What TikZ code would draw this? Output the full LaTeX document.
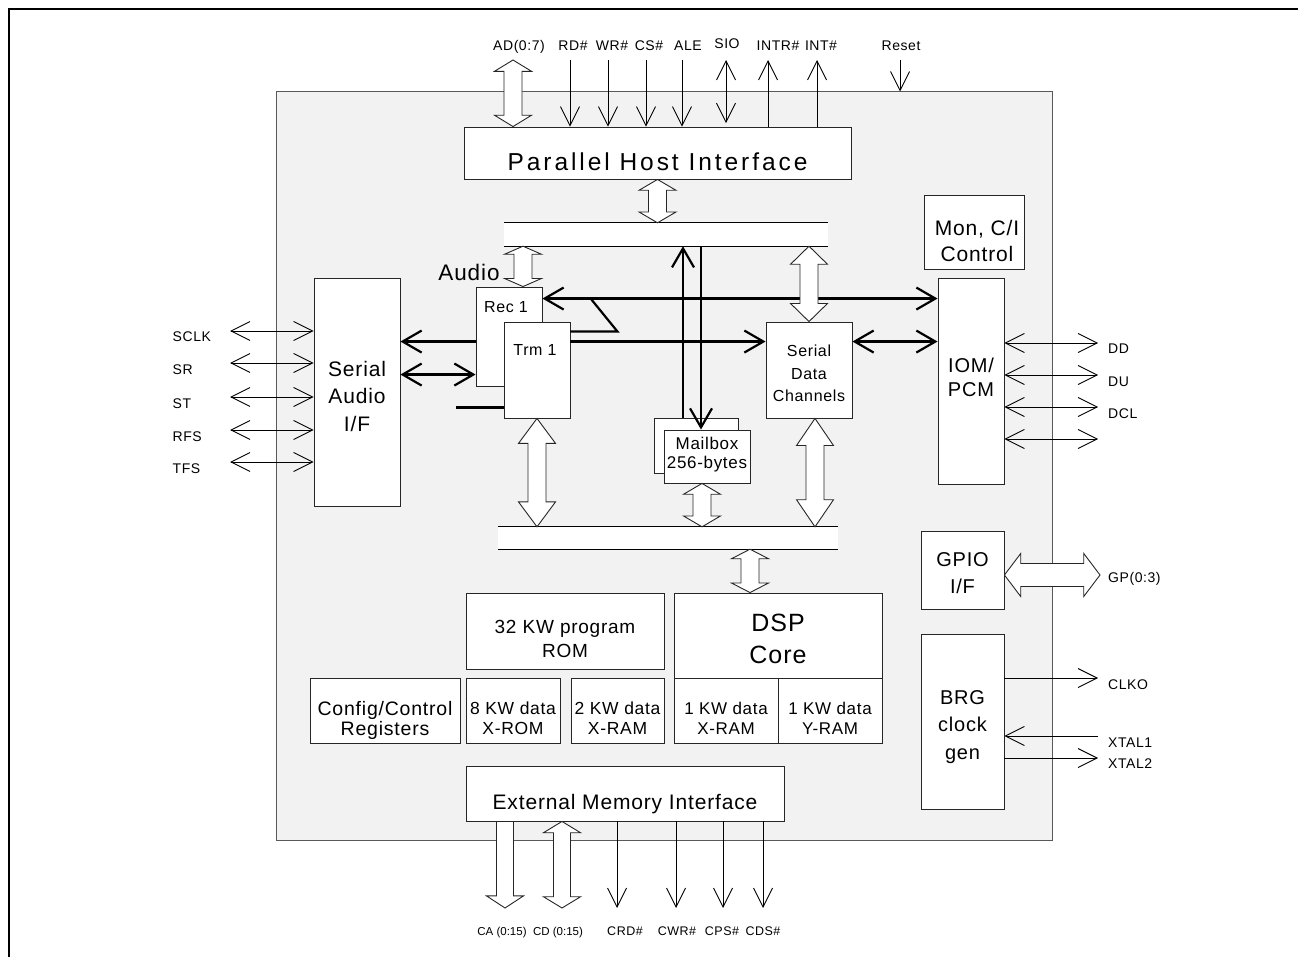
\documentclass[tikz,border=0pt]{standalone}
\usepackage{fontspec}
\setmainfont{Liberation Sans}[LetterSpace=4]
\newfontfamily\widefont{Liberation Sans}[LetterSpace=12]
\newfontfamily\plainfont{Liberation Sans}
\usetikzlibrary{arrows.meta,calc,positioning}
\tikzset{
  chip/.style={draw=black!65,fill=black!5,line width=1pt},
  box/.style={draw=black!85,fill=white,line width=0.9pt,inner sep=0pt},
  tx/.style={inner sep=0pt,align=center,font=\fontsize{20}{27}\selectfont},
  pin/.style={inner sep=0pt,font=\fontsize{14}{16}\selectfont},
  pinsm/.style={inner sep=0pt,font=\fontsize{12.5}{14}\selectfont},
  pinbus/.style={inner sep=0pt,font=\plainfont\fontsize{11.5}{14}\selectfont},
  wire/.style={line width=0.9pt},
  bold/.style={line width=2.2pt,>={Straight Barb[length=19pt,width=22pt]}},
  fathead/.store in=\fatlen, fatwide/.store in=\fatwd, fatshaft/.store in=\fatsh,
  fathead=0.22, fatwide=18.5pt, fatshaft=9pt,
  fat/.style={draw=black!85,fill=white,line width=0.9pt,
    to path={let \p1=(\tikztostart), \p2=(\tikztotarget) in
      -- ($(\p1)!\fatlen!(\p2)!\fatwd!90:(\p2)$)
      -- ($(\p1)!\fatlen!(\p2)!\fatsh!90:(\p2)$)
      -- ($(\p2)!\fatlen!(\p1)!\fatsh!-90:(\p1)$)
      -- ($(\p2)!\fatlen!(\p1)!\fatwd!-90:(\p1)$)
      -- (\p2)
      -- ($(\p2)!\fatlen!(\p1)!\fatwd!90:(\p1)$)
      -- ($(\p2)!\fatlen!(\p1)!\fatsh!90:(\p1)$)
      -- ($(\p1)!\fatlen!(\p2)!\fatsh!-90:(\p2)$)
      -- ($(\p1)!\fatlen!(\p2)!\fatwd!-90:(\p2)$)
      -- cycle}},
  fatone/.style={draw=black!85,fill=white,line width=0.9pt,
    to path={let \p1=(\tikztostart), \p2=(\tikztotarget) in
      -- ($(\p1)!\fatsh!90:(\p2)$)
      -- ($(\p2)!\fatlen!(\p1)!\fatsh!-90:(\p1)$)
      -- ($(\p2)!\fatlen!(\p1)!\fatwd!-90:(\p1)$)
      -- (\p2)
      -- ($(\p2)!\fatlen!(\p1)!\fatwd!90:(\p1)$)
      -- ($(\p2)!\fatlen!(\p1)!\fatsh!90:(\p1)$)
      -- ($(\p1)!\fatsh!-90:(\p2)$)
      -- cycle}}
}
\begin{document}
\begin{tikzpicture}[x=1pt,y=-1pt,>={Straight Barb[length=19pt,width=19pt]}]
  \useasboundingbox (0,0) rectangle (1298,957);
  \draw[line width=2pt] (9,957) -- (9,9) -- (1298,9);
  \node[chip,minimum width=776pt,minimum height=748pt] (chip) at (664,466) {};
  % blocks
  \node[box,minimum width=387pt,minimum height=52pt,
    label={[tx,font=\widefont\fontsize{24.5}{28}\selectfont,yshift=-9pt]center:Parallel Host Interface}] (phi) at (657.5,153) {};
  \node[box,minimum width=86pt,minimum height=228pt,
    label={[tx,font=\fontsize{21}{27.5}\selectfont,yshift=-4pt]center:{Serial\\Audio\\I/F}}] (saif) at (357,392) {};
  \node[box,minimum width=66pt,minimum height=99pt,
    label={[tx,font=\fontsize{16}{20}\selectfont,xshift=-3pt,yshift=29.5pt]center:Rec 1}] (rec) at (509,336.5) {};
  \node[box,minimum width=66pt,minimum height=96pt,
    label={[tx,font=\fontsize{16}{20}\selectfont,xshift=-2pt,yshift=20pt]center:Trm 1}] (trm) at (537,370) {};
  \node[pin,anchor=base,font=\fontsize{22.5}{26}\selectfont] (audio) at (469,281) {Audio};
  \node[fill=white,inner sep=0pt,minimum width=324pt,minimum height=23pt] (ubus) at (666,234.5) {};
  \node[fill=white,inner sep=0pt,minimum width=340pt,minimum height=22pt] (lbus) at (668,538) {};
  \draw[wire] (ubus.north west) -- (ubus.north east) (ubus.south west) -- (ubus.south east);
  \draw[wire] (lbus.north west) -- (lbus.north east) (lbus.south west) -- (lbus.south east);
  \node[box,minimum width=84pt,minimum height=55pt] (mback) at (696,445.5) {};
  \node[box,minimum width=86pt,minimum height=53pt,
    label={[tx,font=\fontsize{17}{18.5}\selectfont,yshift=2pt]center:{Mailbox\\256-bytes}}] (mbox) at (707,456.5) {};
  \node[box,minimum width=86pt,minimum height=96pt,
    label={[tx,font=\fontsize{16}{22.5}\selectfont,yshift=-3.3pt]center:{Serial\\Data\\Channels}}] (sdc) at (809,370) {};
  \node[box,minimum width=100pt,minimum height=74pt,
    label={[tx,font=\fontsize{21}{26}\selectfont,xshift=3pt,yshift=-8.8pt]center:{Mon, C/I\\Control}}] (mon) at (974,232) {};
  \node[box,minimum width=66pt,minimum height=206pt,
    label={[tx,font=\fontsize{20}{24.7}\selectfont,yshift=3.5pt]center:{IOM/\\PCM}}] (iom) at (971,381) {};
  \node[box,minimum width=83pt,minimum height=78pt,
    label={[tx,font=\fontsize{20}{26.7}\selectfont,yshift=-3.2pt]center:{GPIO\\I/F}}] (gpio) at (962.5,570) {};
  \node[box,minimum width=83pt,minimum height=175pt,
    label={[tx,font=\fontsize{20}{27.5}\selectfont,yshift=-5.5pt]center:{BRG\\clock\\gen}}] (brg) at (962.5,721.5) {};
  \node[box,minimum width=318pt,minimum height=55pt,
    label={[tx,font=\fontsize{21}{26}\selectfont,yshift=-11pt]center:External Memory Interface}] (emi) at (625,793.5) {};
  \node[box,minimum width=198pt,minimum height=76pt,
    label={[tx,font=\fontsize{19}{23.5}\selectfont,yshift=-8pt]center:{32 KW program\\ROM}}] (rom) at (565,631) {};
  \node[box,minimum width=208pt,minimum height=85pt,
    label={[tx,font=\fontsize{25}{32}\selectfont,yshift=-3.5pt]center:{DSP\\Core}}] (dsp) at (778,635.5) {};
  \node[box,minimum width=104pt,minimum height=65pt,
    label={[tx,font=\fontsize{17}{20}\selectfont,yshift=-7.8pt]center:{1 KW data\\X-RAM}}] (xram) at (726,710.5) {};
  \node[box,minimum width=104pt,minimum height=65pt,
    label={[tx,font=\fontsize{17}{20}\selectfont,yshift=-7.8pt]center:{1 KW data\\Y-RAM}}] (yram) at (830,710.5) {};
  \node[box,minimum width=150pt,minimum height=65pt,
    label={[tx,font=\fontsize{19.5}{20}\selectfont,yshift=-9.8pt]center:{Config/Control\\Registers}}] (cfg) at (385,710.5) {};
  \node[box,minimum width=94pt,minimum height=65pt,
    label={[tx,font=\fontsize{17.5}{20}\selectfont,yshift=-7.8pt]center:{8 KW data\\X-ROM}}] (xrom) at (513,710.5) {};
  \node[box,minimum width=93pt,minimum height=65pt,
    label={[tx,font=\fontsize{17.5}{20}\selectfont,yshift=-7.8pt]center:{2 KW data\\X-RAM}}] (xram2) at (617.5,710.5) {};
  % top pins
  \coordinate (ad) at (513,60);
  \node[pin,anchor=base] (ad-l) at (519,50.5) {AD(0:7)};
  \draw[fat,fathead=0.17] (ad) to (ad |- phi.north);
  \foreach \x/\lx/\nm/\txt in {570/573/rd/RD\#,608/612/wr/WR\#,646/649/cs/CS\#,682/688/ale/ALE}{
    \coordinate (\nm) at (\x,60);
    \node[pin,anchor=base] (\nm-l) at (\lx,50.5) {\txt};
    \draw[wire,->] (\nm) -- (\nm |- phi.north);
  }
  \coordinate (sio) at (726,60);
  \node[pin,anchor=base] (sio-l) at (727,48.3) {SIO};
  \draw[wire,<->,shorten >=3.5pt] (sio) -- (sio |- phi.north);
  \foreach \x/\lx/\nm/\txt in {768/778/intr/INTR\#,817/821/int/INT\#}{
    \coordinate (\nm) at (\x,60);
    \node[pin,anchor=base] (\nm-l) at (\lx,50.5) {\txt};
    \draw[wire,<-] (\nm) -- (\nm |- phi.north);
  }
  \coordinate (reset) at (900,60);
  \node[pin,anchor=base] (reset-l) at (901,50.5) {Reset};
  \draw[wire,->] (reset) -- (reset |- chip.north);
  % serial audio pins
  \foreach \y/\nm/\txt in {331/sclk/SCLK,363/sr/SR,397/st/ST,430/rfs/RFS,462/tfs/TFS}{
    \coordinate (\nm) at (230,\y);
    \node[pin,anchor=base west] (\nm-l) at (172.5,\y+11) {\txt};
    \draw[wire,<->] (\nm) -- (\nm -| saif.west);
  }
  % IOM pins
  \foreach \y/\nm/\txt in {343/dd/DD,375/du/DU,407/dcl/DCL}{
    \coordinate (\nm) at (1098,\y);
    \node[pin,anchor=base west] (\nm-l) at (1108,\y+11) {\txt};
    \draw[wire,<->] (\nm -| iom.east) -- (\nm);
  }
  \coordinate (dx) at (1098,439);
  \draw[wire,<->] (dx -| iom.east) -- (dx);
  % gpio and clock
  \coordinate (gp) at (1100,575);
  \node[pin,anchor=base west] (gp-l) at (1108,582) {GP(0:3)};
  \draw[fat,fathead=0.17,fatwide=21.5pt,fatshaft=11.5pt] (gp -| gpio.east) to (gp);
  \coordinate (clko) at (1098,678);
  \coordinate (xtal1) at (1098,736);
  \coordinate (xtal2) at (1098,758);
  \node[pin,anchor=base west] (clko-l) at (1108,689) {CLKO};
  \node[pin,anchor=base west] (xtal1-l) at (1108,747.5) {XTAL1};
  \node[pin,anchor=base west] (xtal2-l) at (1108,768) {XTAL2};
  \draw[wire,->] (clko -| brg.east) -- (clko);
  \draw[wire,->] (xtal1) -- (xtal1 -| brg.east);
  \draw[wire,->] (xtal2 -| brg.east) -- (xtal2);
  % memory pins
  \coordinate (ca) at (505,908);
  \coordinate (cd) at (562,908);
  \node[pinbus,anchor=base] (ca-l) at (502,935) {CA (0:15)};
  \node[pinbus,anchor=base] (cd-l) at (558,935) {CD (0:15)};
  \draw[fatone,fathead=0.14,fatshaft=8.5pt] (ca |- emi.south) to (ca);
  \draw[fat,fathead=0.13,fatshaft=8.5pt] (cd |- emi.south) to (cd);
  \foreach \x/\lx/\nm/\txt in {617/625/crd/CRD\#,676/677/cwr/CWR\#,723/722/cps/CPS\#,763/763/cds/CDS\#}{
    \coordinate (\nm) at (\x,908);
    \node[pinsm,anchor=base] (\nm-l) at (\lx,935) {\txt};
    \draw[wire,->] (\nm |- emi.south) -- (\nm);
  }
  % internal paths
  \draw[bold,<->] ([yshift=-12pt]rec.north east) -- ([yshift=-12pt]rec.north east -| iom.west);
  \draw[bold] ([yshift=-10pt]trm.north east) -- ++(47,0) -- ++(-26,-32);
  \draw[bold,->] ([yshift=-20pt]trm.north east) -- ([yshift=-20pt]trm.north east -| sdc.west);
  \draw[bold,<->] ([yshift=-20pt]sdc.north east) -- ([yshift=-20pt]sdc.north east -| iom.west);
  \draw[bold,->] ([yshift=-55pt]rec.north west) -- ([yshift=-55pt]rec.north west -| saif.east);
  \draw[bold,<->] ([yshift=-88pt]rec.north west -| saif.east) -- ([yshift=-88pt]rec.north west);
  \draw[bold] ([yshift=-86pt]trm.north west) -- ++(-48,0);
  \draw[bold,->] ([xshift=-13pt]mback.north) -- ([xshift=-13pt]mback.north |- ubus.south);
  \draw[bold,->] ([xshift=-6pt]mbox.north |- ubus.south) -- ([xshift=-6pt]mbox.north);
  % bus arrows
  \draw[fat,fathead=0.25] (phi.south) to (phi.south |- ubus.north);
  \draw[fat,fathead=0.2] ([xshift=14pt]rec.north |- ubus.south) to ([xshift=14pt]rec.north);
  \draw[fat,fathead=0.24] (sdc.north |- ubus.south) to (sdc.north);
  \draw[fat,fathead=0.23] (trm.south) to (trm.south |- lbus.north);
  \draw[fat,fathead=0.25] ([xshift=-5pt]mbox.south) to ([xshift=-5pt]mbox.south |- lbus.north);
  \draw[fat,fathead=0.25] ([xshift=6pt]sdc.south) to ([xshift=6pt]sdc.south |- lbus.north);
  \draw[fat,fathead=0.22] ([xshift=-28pt]dsp.north |- lbus.south) to ([xshift=-28pt]dsp.north);
\end{tikzpicture}
\end{document}
